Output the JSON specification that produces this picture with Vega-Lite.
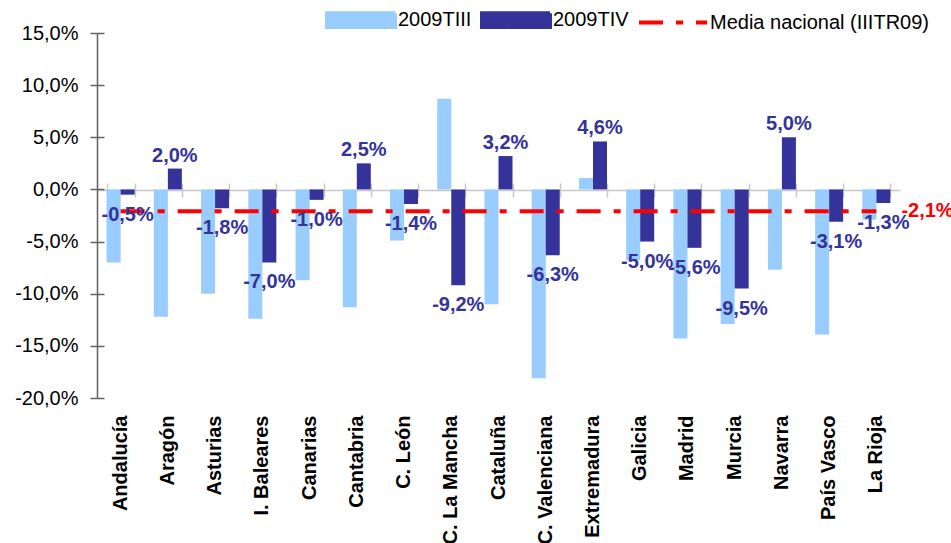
{
  "$schema": "https://vega.github.io/schema/vega-lite/v6.json",
  "width": 803,
  "height": 365,
  "autosize": {"type": "none"},
  "padding": {"left": 97, "top": 33, "right": 51, "bottom": 145},
  "config": {
    "view": {"stroke": null},
    "font": "Liberation Sans",
    "locale": {"number": {"decimal": ",", "thousands": ".", "grouping": [3], "currency": ["", " €"], "minus": "-"}}
  },
  "datasets": {
    "bars": [
      {"region": "Andalucía", "serie": "2009TIII", "value": -0.070},
      {"region": "Andalucía", "serie": "2009TIV", "value": -0.005},
      {"region": "Aragón", "serie": "2009TIII", "value": -0.122},
      {"region": "Aragón", "serie": "2009TIV", "value": 0.020},
      {"region": "Asturias", "serie": "2009TIII", "value": -0.100},
      {"region": "Asturias", "serie": "2009TIV", "value": -0.018},
      {"region": "I. Baleares", "serie": "2009TIII", "value": -0.124},
      {"region": "I. Baleares", "serie": "2009TIV", "value": -0.070},
      {"region": "Canarias", "serie": "2009TIII", "value": -0.087},
      {"region": "Canarias", "serie": "2009TIV", "value": -0.010},
      {"region": "Cantabria", "serie": "2009TIII", "value": -0.113},
      {"region": "Cantabria", "serie": "2009TIV", "value": 0.025},
      {"region": "C. León", "serie": "2009TIII", "value": -0.049},
      {"region": "C. León", "serie": "2009TIV", "value": -0.014},
      {"region": "C. La Mancha", "serie": "2009TIII", "value": 0.087},
      {"region": "C. La Mancha", "serie": "2009TIV", "value": -0.092},
      {"region": "Cataluña", "serie": "2009TIII", "value": -0.110},
      {"region": "Cataluña", "serie": "2009TIV", "value": 0.032},
      {"region": "C. Valenciana", "serie": "2009TIII", "value": -0.181},
      {"region": "C. Valenciana", "serie": "2009TIV", "value": -0.063},
      {"region": "Extremadura", "serie": "2009TIII", "value": 0.011},
      {"region": "Extremadura", "serie": "2009TIV", "value": 0.046},
      {"region": "Galicia", "serie": "2009TIII", "value": -0.068},
      {"region": "Galicia", "serie": "2009TIV", "value": -0.050},
      {"region": "Madrid", "serie": "2009TIII", "value": -0.143},
      {"region": "Madrid", "serie": "2009TIV", "value": -0.056},
      {"region": "Murcia", "serie": "2009TIII", "value": -0.129},
      {"region": "Murcia", "serie": "2009TIV", "value": -0.095},
      {"region": "Navarra", "serie": "2009TIII", "value": -0.077},
      {"region": "Navarra", "serie": "2009TIV", "value": 0.050},
      {"region": "País Vasco", "serie": "2009TIII", "value": -0.139},
      {"region": "País Vasco", "serie": "2009TIV", "value": -0.031},
      {"region": "La Rioja", "serie": "2009TIII", "value": -0.029},
      {"region": "La Rioja", "serie": "2009TIV", "value": -0.013}
    ],
    "media": [
      {"region": "Andalucía", "media": -0.021},
      {"region": "Aragón", "media": -0.021},
      {"region": "Asturias", "media": -0.021},
      {"region": "I. Baleares", "media": -0.021},
      {"region": "Canarias", "media": -0.021},
      {"region": "Cantabria", "media": -0.021},
      {"region": "C. León", "media": -0.021},
      {"region": "C. La Mancha", "media": -0.021},
      {"region": "Cataluña", "media": -0.021},
      {"region": "C. Valenciana", "media": -0.021},
      {"region": "Extremadura", "media": -0.021},
      {"region": "Galicia", "media": -0.021},
      {"region": "Madrid", "media": -0.021},
      {"region": "Murcia", "media": -0.021},
      {"region": "Navarra", "media": -0.021},
      {"region": "País Vasco", "media": -0.021},
      {"region": "La Rioja", "media": -0.021}
    ]
  },
  "layer": [
    {
      "data": {"name": "bars"},
      "mark": {"type": "bar"},
      "encoding": {
        "x": {
          "field": "region", "type": "nominal", "sort": null,
          "scale": {"paddingInner": 0.407, "paddingOuter": 0.2035},
          "axis": {
            "orient": "bottom", "title": null, "domain": false, "ticks": false,
            "labelAngle": -90, "labelFontSize": 20, "labelFontWeight": "bold",
            "labelColor": "#000000", "labelPadding": 17, "labelFont": "Liberation Sans"
          }
        },
        "xOffset": {"field": "serie", "type": "nominal", "scale": {"domain": ["2009TIII", "2009TIV"], "paddingInner": 0, "paddingOuter": 0}},
        "y": {
          "field": "value", "type": "quantitative",
          "scale": {"domain": [-0.2, 0.15], "nice": false, "zero": false},
          "axis": {
            "orient": "left", "title": null, "format": ".1%", "grid": false,
            "values": [-0.2, -0.15, -0.1, -0.05, 0, 0.05, 0.1, 0.15],
            "domainColor": "#606060", "domainWidth": 1.5, "tickColor": "#606060", "tickWidth": 1.5,
            "tickSize": 7, "labelFontSize": 20, "labelColor": "#000000", "labelPadding": 12,
            "labelFont": "Liberation Sans"
          }
        },
        "color": {
          "field": "serie", "type": "nominal",
          "scale": {"domain": ["2009TIII", "2009TIV", "Media nacional (IIITR09)"], "range": ["#99CCFF", "#333399", "#FF0000"]},
          "legend": {
            "title": null, "orient": "none", "direction": "horizontal",
            "legendX": 228, "legendY": -49,
            "labelFontSize": 20, "labelColor": "#000000", "labelFont": "Liberation Sans",
            "labelOffset": 1, "columnPadding": 2, "padding": 0, "labelLimit": 400,
            "symbolSize": 4624,
            "encode": {
              "symbols": {
                "update": {
                  "shape": {"signal": "datum.value === 'Media nacional (IIITR09)' ? 'M-1,0H1' : 'M-1,-0.2H1V0.2H-1Z'"},
                  "fill": {"signal": "datum.value === 'Media nacional (IIITR09)' ? 'transparent' : scale('color', datum.value)"},
                  "stroke": {"signal": "datum.value === 'Media nacional (IIITR09)' ? '#FF0000' : 'transparent'"},
                  "strokeDash": {"signal": "datum.value === 'Media nacional (IIITR09)' ? [24, 13, 7, 13] : [1, 0]"},
                  "strokeWidth": {"value": 4},
                  "size": {"value": 4624},
                  "opacity": {"value": 1}
                }
              }
            }
          }
        }
      }
    },
    {
      "data": {"name": "media"},
      "mark": {"type": "line", "strokeWidth": 4, "strokeDash": [24, 13, 7, 13]},
      "encoding": {
        "x": {
          "field": "region", "type": "nominal", "sort": null,
          "axis": {
            "orient": "top", "offset": -157, "title": null, "labels": false,
            "domainColor": "#C8C8C8", "domainWidth": 1.5, "tickColor": "#C8C8C8", "tickWidth": 1.5,
            "tickSize": 7, "tickBand": "extent"
          }
        },
        "y": {
          "field": "media", "type": "quantitative",
          "axis": {
            "orient": "right", "offset": -803, "title": null, "labels": false, "domain": false, "grid": false,
            "values": [-0.2, -0.15, -0.1, -0.05, 0, 0.05, 0.1, 0.15],
            "tickColor": "#606060", "tickWidth": 1.5, "tickSize": 7
          }
        },
        "color": {"datum": "Media nacional (IIITR09)"}
      }
    },
    {
      "data": {"name": "bars"},
      "transform": [{"filter": "datum.serie === '2009TIV' && datum.value >= 0"}],
      "mark": {"type": "text", "fontSize": 20, "fontWeight": "bold", "color": "#333399", "baseline": "middle", "dy": -13},
      "encoding": {
        "x": {
          "field": "region", "type": "nominal", "sort": null,
          "axis": {
            "orient": "bottom", "offset": -208, "title": null, "labels": false, "domain": false,
            "tickColor": "#C8C8C8", "tickWidth": 1.5, "tickSize": 7, "tickBand": "extent"
          }
        },
        "xOffset": {"field": "serie", "type": "nominal"},
        "y": {"field": "value", "type": "quantitative", "axis": null},
        "text": {"field": "value", "type": "quantitative", "format": ".1%"}
      }
    },
    {
      "data": {"name": "bars"},
      "transform": [{"filter": "datum.serie === '2009TIV' && datum.value < 0"}],
      "mark": {"type": "text", "fontSize": 20, "fontWeight": "bold", "color": "#333399", "baseline": "middle", "dy": 20},
      "encoding": {
        "x": {"field": "region", "type": "nominal", "sort": null, "axis": null},
        "xOffset": {"field": "serie", "type": "nominal"},
        "y": {"field": "value", "type": "quantitative", "axis": null},
        "text": {"field": "value", "type": "quantitative", "format": ".1%"}
      }
    },
    {
      "data": {"name": "media"},
      "transform": [{"filter": "datum.region === 'La Rioja'"}],
      "mark": {"type": "text", "fontSize": 20, "fontWeight": "bold", "color": "#FF0000", "baseline": "middle", "align": "left", "dx": 25},
      "encoding": {
        "x": {"field": "region", "type": "nominal", "sort": null, "axis": null},
        "y": {"field": "media", "type": "quantitative", "axis": null},
        "text": {"field": "media", "type": "quantitative", "format": ".1%"}
      }
    }
  ],
  "resolve": {"axis": {"x": "independent", "y": "independent"}}
}
